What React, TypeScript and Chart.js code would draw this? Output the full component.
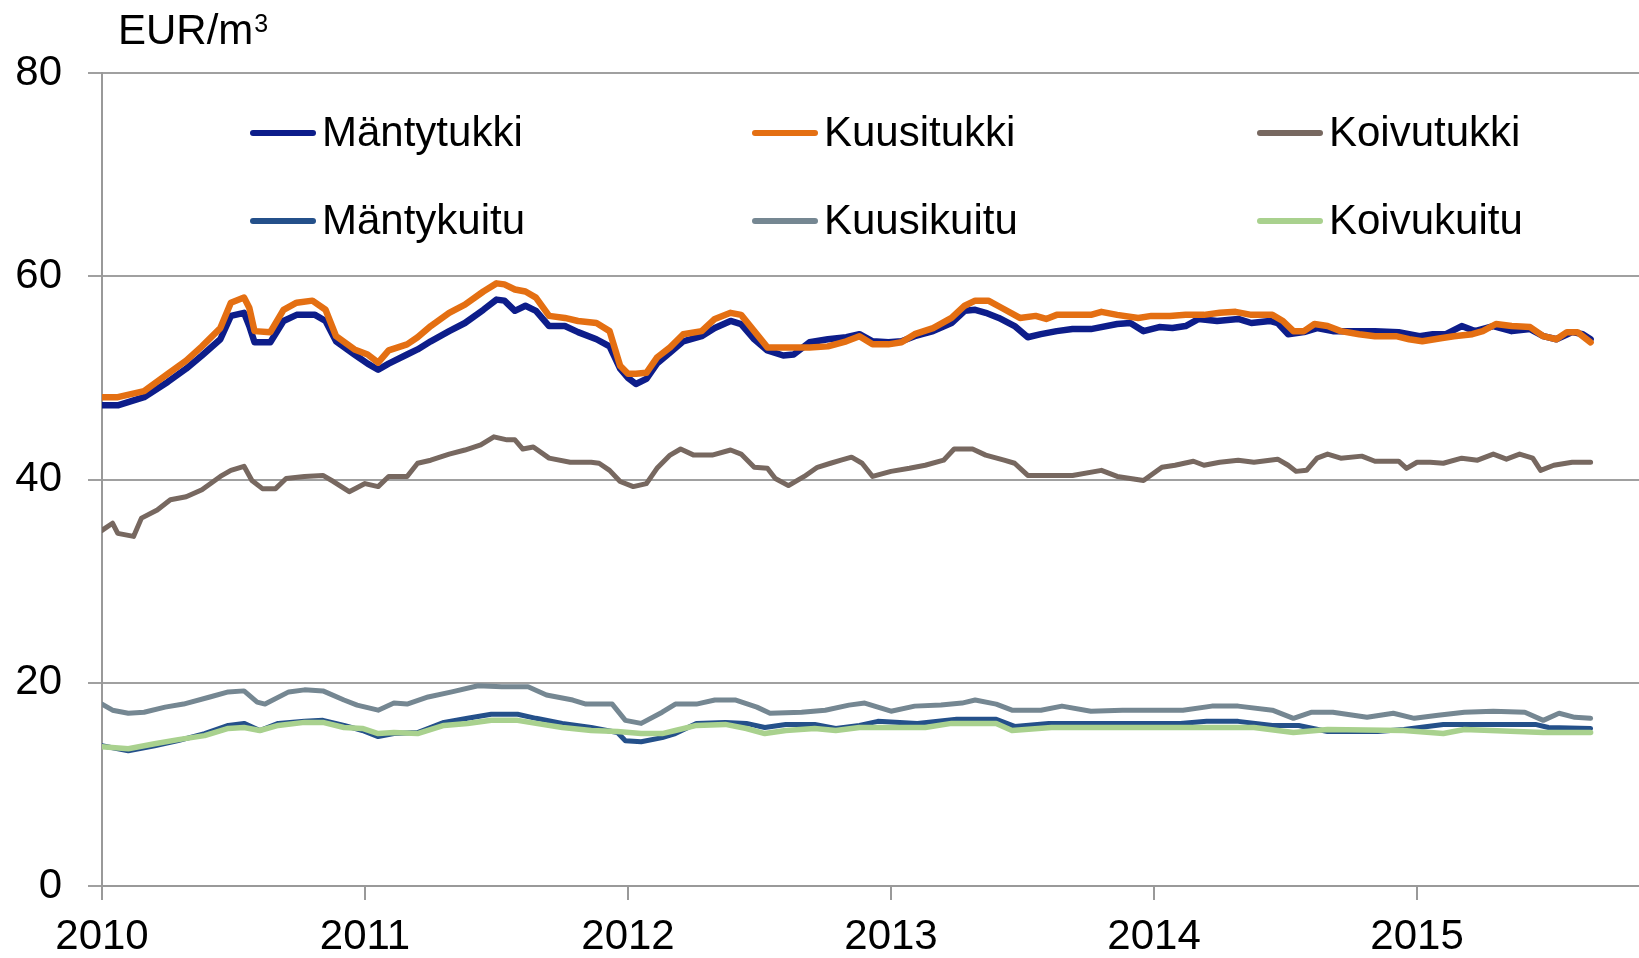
import React, { useEffect, useRef } from "react";
import { Chart, registerables } from "chart.js";

Chart.register(...registerables);

const FONT = "'Liberation Sans', Arial, sans-serif";

const yearTicks = [2010, 2011, 2012, 2013, 2014, 2015];
const yTicks = [0, 20, 40, 60, 80];
const unitLabel = "EUR/m";
const unitSup = "3";

const seriesNames = ["Mäntytukki", "Kuusitukki", "Koivutukki", "Mäntykuitu", "Kuusikuitu", "Koivukuitu"];
const seriesColors = ["#0d1d8a", "#e46f12", "#776860", "#24508a", "#758792", "#a9d18e"];

const mantytukkiT = [2010.00, 2010.06, 2010.16, 2010.25, 2010.32, 2010.38, 2010.45, 2010.49, 2010.54, 2010.56, 2010.58, 2010.64, 2010.69, 2010.74, 2010.81, 2010.85, 2010.89, 2010.96, 2011.01, 2011.05, 2011.09, 2011.16, 2011.20, 2011.25, 2011.32, 2011.38, 2011.45, 2011.50, 2011.53, 2011.57, 2011.61, 2011.65, 2011.70, 2011.76, 2011.81, 2011.88, 2011.93, 2011.97, 2012.00, 2012.03, 2012.07, 2012.11, 2012.16, 2012.21, 2012.28, 2012.33, 2012.39, 2012.43, 2012.48, 2012.53, 2012.59, 2012.63, 2012.69, 2012.76, 2012.83, 2012.88, 2012.93, 2012.99, 2013.04, 2013.09, 2013.16, 2013.23, 2013.28, 2013.32, 2013.36, 2013.41, 2013.47, 2013.52, 2013.57, 2013.63, 2013.69, 2013.76, 2013.86, 2013.91, 2013.96, 2014.02, 2014.07, 2014.12, 2014.17, 2014.24, 2014.32, 2014.37, 2014.44, 2014.47, 2014.51, 2014.57, 2014.62, 2014.68, 2014.76, 2014.84, 2014.93, 2015.01, 2015.06, 2015.11, 2015.17, 2015.22, 2015.29, 2015.36, 2015.43, 2015.48, 2015.53, 2015.59, 2015.63, 2015.66];
const mantytukkiV = [47.3, 47.3, 48.1, 49.6, 50.9, 52.2, 53.8, 56.1, 56.4, 55.1, 53.5, 53.5, 55.6, 56.2, 56.2, 55.6, 53.6, 52.3, 51.4, 50.8, 51.4, 52.3, 52.8, 53.6, 54.6, 55.4, 56.7, 57.7, 57.6, 56.6, 57.1, 56.6, 55.1, 55.1, 54.5, 53.8, 53.1, 50.9, 50.0, 49.4, 49.9, 51.4, 52.5, 53.6, 54.1, 54.9, 55.6, 55.3, 53.8, 52.7, 52.2, 52.3, 53.5, 53.8, 54.0, 54.3, 53.6, 53.5, 53.6, 54.1, 54.6, 55.4, 56.6, 56.7, 56.4, 55.9, 55.1, 54.0, 54.3, 54.6, 54.8, 54.8, 55.3, 55.4, 54.6, 55.0, 54.9, 55.1, 55.8, 55.6, 55.8, 55.4, 55.6, 55.4, 54.3, 54.5, 54.9, 54.6, 54.6, 54.6, 54.5, 54.1, 54.3, 54.3, 55.1, 54.6, 55.1, 54.6, 54.8, 54.1, 53.8, 54.5, 54.3, 53.8];

const kuusitukkiT = [2010.00, 2010.06, 2010.16, 2010.25, 2010.32, 2010.38, 2010.45, 2010.49, 2010.54, 2010.56, 2010.58, 2010.64, 2010.69, 2010.74, 2010.80, 2010.85, 2010.89, 2010.96, 2011.01, 2011.05, 2011.09, 2011.16, 2011.20, 2011.25, 2011.32, 2011.38, 2011.45, 2011.50, 2011.53, 2011.57, 2011.61, 2011.65, 2011.70, 2011.76, 2011.81, 2011.88, 2011.93, 2011.97, 2012.00, 2012.03, 2012.07, 2012.11, 2012.16, 2012.21, 2012.28, 2012.33, 2012.39, 2012.43, 2012.48, 2012.53, 2012.59, 2012.63, 2012.69, 2012.76, 2012.83, 2012.88, 2012.93, 2012.99, 2013.04, 2013.09, 2013.16, 2013.23, 2013.28, 2013.32, 2013.37, 2013.42, 2013.49, 2013.55, 2013.59, 2013.63, 2013.69, 2013.76, 2013.80, 2013.86, 2013.94, 2013.99, 2014.06, 2014.12, 2014.19, 2014.25, 2014.31, 2014.37, 2014.45, 2014.49, 2014.53, 2014.57, 2014.61, 2014.66, 2014.71, 2014.78, 2014.84, 2014.92, 2014.97, 2015.02, 2015.09, 2015.14, 2015.21, 2015.25, 2015.30, 2015.36, 2015.43, 2015.48, 2015.53, 2015.57, 2015.61, 2015.66];
const kuusitukkiV = [48.1, 48.1, 48.7, 50.4, 51.7, 53.1, 54.9, 57.4, 57.9, 56.9, 54.6, 54.5, 56.7, 57.4, 57.6, 56.7, 54.1, 52.8, 52.3, 51.5, 52.7, 53.3, 54.0, 55.1, 56.4, 57.2, 58.5, 59.3, 59.2, 58.7, 58.5, 57.9, 56.1, 55.9, 55.6, 55.4, 54.6, 51.2, 50.4, 50.4, 50.5, 52.0, 53.0, 54.3, 54.6, 55.8, 56.4, 56.2, 54.6, 53.0, 53.0, 53.0, 53.0, 53.1, 53.6, 54.1, 53.3, 53.3, 53.5, 54.3, 54.9, 55.9, 57.1, 57.6, 57.6, 56.9, 55.9, 56.1, 55.8, 56.2, 56.2, 56.2, 56.5, 56.2, 55.9, 56.1, 56.1, 56.2, 56.2, 56.4, 56.5, 56.2, 56.2, 55.6, 54.6, 54.6, 55.3, 55.1, 54.6, 54.3, 54.1, 54.1, 53.8, 53.6, 53.9, 54.1, 54.3, 54.6, 55.3, 55.1, 55.0, 54.1, 53.8, 54.5, 54.5, 53.5];

const koivutukkiT = [2010.00, 2010.04, 2010.06, 2010.12, 2010.15, 2010.21, 2010.26, 2010.32, 2010.38, 2010.45, 2010.49, 2010.54, 2010.57, 2010.61, 2010.66, 2010.70, 2010.77, 2010.84, 2010.88, 2010.94, 2011.00, 2011.05, 2011.09, 2011.16, 2011.20, 2011.25, 2011.32, 2011.38, 2011.44, 2011.49, 2011.54, 2011.57, 2011.60, 2011.64, 2011.70, 2011.78, 2011.86, 2011.89, 2011.93, 2011.97, 2012.02, 2012.07, 2012.11, 2012.16, 2012.20, 2012.25, 2012.32, 2012.39, 2012.43, 2012.48, 2012.53, 2012.56, 2012.61, 2012.67, 2012.72, 2012.77, 2012.81, 2012.85, 2012.89, 2012.93, 2013.00, 2013.07, 2013.13, 2013.20, 2013.24, 2013.31, 2013.36, 2013.43, 2013.47, 2013.52, 2013.60, 2013.69, 2013.80, 2013.86, 2013.96, 2014.03, 2014.08, 2014.15, 2014.19, 2014.25, 2014.32, 2014.38, 2014.47, 2014.51, 2014.54, 2014.58, 2014.62, 2014.66, 2014.71, 2014.79, 2014.84, 2014.93, 2014.96, 2015.00, 2015.05, 2015.10, 2015.17, 2015.23, 2015.29, 2015.34, 2015.39, 2015.44, 2015.47, 2015.52, 2015.59, 2015.66];
const koivutukkiV = [35.0, 35.7, 34.7, 34.4, 36.2, 37.0, 38.0, 38.3, 39.0, 40.3, 40.9, 41.3, 39.9, 39.1, 39.1, 40.1, 40.3, 40.4, 39.8, 38.8, 39.6, 39.3, 40.3, 40.3, 41.6, 41.9, 42.5, 42.9, 43.4, 44.2, 43.9, 43.9, 43.0, 43.2, 42.1, 41.7, 41.7, 41.6, 40.9, 39.8, 39.3, 39.6, 41.1, 42.4, 43.0, 42.4, 42.4, 42.9, 42.5, 41.2, 41.1, 40.1, 39.4, 40.3, 41.2, 41.6, 41.9, 42.2, 41.6, 40.3, 40.8, 41.1, 41.4, 41.9, 43.0, 43.0, 42.4, 41.9, 41.6, 40.4, 40.4, 40.4, 40.9, 40.3, 39.9, 41.2, 41.4, 41.8, 41.4, 41.7, 41.9, 41.7, 42.0, 41.4, 40.8, 40.9, 42.1, 42.5, 42.1, 42.3, 41.8, 41.8, 41.1, 41.7, 41.7, 41.6, 42.1, 41.9, 42.5, 42.0, 42.5, 42.1, 40.9, 41.4, 41.7, 41.7];

const mantykuituT = [2010.00, 2010.10, 2010.20, 2010.29, 2010.39, 2010.48, 2010.54, 2010.60, 2010.67, 2010.77, 2010.84, 2010.92, 2010.99, 2011.05, 2011.11, 2011.20, 2011.30, 2011.39, 2011.48, 2011.58, 2011.65, 2011.75, 2011.86, 2011.96, 2011.99, 2012.05, 2012.13, 2012.18, 2012.26, 2012.37, 2012.45, 2012.52, 2012.60, 2012.71, 2012.79, 2012.88, 2012.95, 2013.10, 2013.25, 2013.40, 2013.47, 2013.60, 2013.80, 2014.10, 2014.20, 2014.32, 2014.45, 2014.55, 2014.66, 2014.85, 2014.95, 2015.10, 2015.30, 2015.45, 2015.50, 2015.66];
const mantykuituV = [13.8, 13.3, 13.8, 14.3, 15.0, 15.8, 16.0, 15.3, 16.0, 16.2, 16.3, 15.8, 15.3, 14.7, 15.0, 15.1, 16.1, 16.5, 16.9, 16.9, 16.5, 16.0, 15.6, 15.1, 14.3, 14.2, 14.6, 15.0, 16.0, 16.1, 16.0, 15.6, 15.9, 15.9, 15.5, 15.8, 16.2, 16.0, 16.4, 16.4, 15.7, 16.0, 16.0, 16.0, 16.2, 16.2, 15.8, 15.8, 15.2, 15.2, 15.4, 15.9, 15.9, 15.9, 15.6, 15.5];

const kuusikuituT = [2010.00, 2010.04, 2010.10, 2010.16, 2010.24, 2010.31, 2010.41, 2010.48, 2010.54, 2010.59, 2010.62, 2010.71, 2010.77, 2010.84, 2010.92, 2010.97, 2011.05, 2011.11, 2011.16, 2011.24, 2011.33, 2011.43, 2011.52, 2011.62, 2011.69, 2011.79, 2011.84, 2011.94, 2011.99, 2012.05, 2012.13, 2012.18, 2012.26, 2012.33, 2012.41, 2012.49, 2012.54, 2012.66, 2012.75, 2012.84, 2012.90, 2013.00, 2013.09, 2013.19, 2013.27, 2013.32, 2013.40, 2013.46, 2013.57, 2013.65, 2013.76, 2013.88, 2013.99, 2014.11, 2014.22, 2014.32, 2014.45, 2014.53, 2014.60, 2014.68, 2014.81, 2014.91, 2014.99, 2015.08, 2015.18, 2015.29, 2015.41, 2015.48, 2015.54, 2015.60, 2015.66];
const kuusikuituV = [17.9, 17.3, 17.0, 17.1, 17.6, 17.9, 18.6, 19.1, 19.2, 18.1, 17.9, 19.1, 19.3, 19.2, 18.3, 17.8, 17.3, 18.0, 17.9, 18.6, 19.1, 19.7, 19.6, 19.6, 18.8, 18.3, 17.9, 17.9, 16.3, 16.0, 17.1, 17.9, 17.9, 18.3, 18.3, 17.6, 17.0, 17.1, 17.3, 17.8, 18.0, 17.2, 17.7, 17.8, 18.0, 18.3, 17.9, 17.3, 17.3, 17.7, 17.2, 17.3, 17.3, 17.3, 17.7, 17.7, 17.3, 16.5, 17.1, 17.1, 16.6, 17.0, 16.5, 16.8, 17.1, 17.2, 17.1, 16.3, 17.0, 16.6, 16.5];

const koivukuituT = [2010.00, 2010.10, 2010.20, 2010.29, 2010.39, 2010.48, 2010.54, 2010.60, 2010.67, 2010.77, 2010.84, 2010.92, 2010.99, 2011.05, 2011.11, 2011.20, 2011.30, 2011.39, 2011.48, 2011.58, 2011.65, 2011.75, 2011.86, 2011.96, 2012.05, 2012.13, 2012.18, 2012.26, 2012.37, 2012.45, 2012.52, 2012.60, 2012.71, 2012.79, 2012.88, 2013.13, 2013.23, 2013.40, 2013.46, 2013.61, 2014.00, 2014.26, 2014.38, 2014.53, 2014.66, 2014.95, 2015.10, 2015.18, 2015.48, 2015.66];
const koivukuituV = [13.7, 13.5, 14.0, 14.4, 14.8, 15.5, 15.6, 15.3, 15.8, 16.1, 16.1, 15.6, 15.5, 15.0, 15.1, 15.0, 15.8, 16.0, 16.3, 16.3, 16.0, 15.6, 15.3, 15.2, 15.0, 15.0, 15.3, 15.8, 15.9, 15.5, 15.0, 15.3, 15.5, 15.3, 15.6, 15.6, 16.0, 16.0, 15.3, 15.6, 15.6, 15.6, 15.6, 15.1, 15.4, 15.3, 15.0, 15.4, 15.1, 15.1];

const seriesT = [mantytukkiT, kuusitukkiT, koivutukkiT, mantykuituT, kuusikuituT, koivukuituT];
const seriesV = [mantytukkiV, kuusitukkiV, koivutukkiV, mantykuituV, kuusikuituV, koivukuituV];
const seriesWidth = [6.5, 6.5, 5, 5, 5, 5.5];
const seriesOrder = [4, 1, 2, 5, 3, 0];

const legendPlugin = {
  id: "customLegend",
  afterDraw(chart: any) {
    const ctx = chart.ctx as CanvasRenderingContext2D;
    ctx.save();
    ctx.fillStyle = "#000";
    ctx.textBaseline = "alphabetic";
    ctx.textAlign = "left";
    ctx.font = `42px ${FONT}`;
    ctx.fillText(unitLabel, 118, 44);
    const w = ctx.measureText(unitLabel).width;
    ctx.font = `25px ${FONT}`;
    ctx.fillText(unitSup, 118 + w + 1, 32);

    const colX = [253, 755, 1260];
    const rowY = [133, 221];
    ctx.font = `42px ${FONT}`;
    ctx.textBaseline = "middle";
    seriesNames.forEach((name, i) => {
      const col = i % 3;
      const row = Math.floor(i / 3);
      const x = colX[col];
      const y = rowY[row];
      ctx.strokeStyle = seriesColors[i];
      ctx.lineWidth = 6;
      ctx.lineCap = "round";
      ctx.beginPath();
      ctx.moveTo(x, y);
      ctx.lineTo(x + 60, y);
      ctx.stroke();
      ctx.fillStyle = "#000";
      ctx.fillText(name, x + 69, y + 1);
    });
    ctx.restore();
  },
};

export default function App() {
  const ref = useRef<HTMLCanvasElement | null>(null);
  useEffect(() => {
    document.body.style.margin = "0";
    const canvas = ref.current!;
    const datasets = seriesNames.map((name, i) => ({
      label: name,
      data: seriesT[i].map((t, j) => ({ x: t, y: seriesV[i][j] })),
      borderColor: seriesColors[i],
      backgroundColor: seriesColors[i],
      borderWidth: seriesWidth[i],
      pointRadius: 0,
      tension: 0,
      fill: false,
      borderJoinStyle: "round" as const,
      borderCapStyle: "round" as const,
      order: seriesOrder[i],
    }));
    const chart = new Chart(canvas, {
      type: "line",
      data: { datasets },
      plugins: [legendPlugin],
      options: {
        responsive: false,
        animation: false,
        layout: { padding: { top: 73, left: 0, right: 0, bottom: 0 } },
        plugins: { legend: { display: false }, tooltip: { enabled: false } },
        scales: {
          x: {
            type: "linear",
            min: 2010,
            max: 2015.844,
            afterBuildTicks: (scale: any) => {
              scale.ticks = yearTicks.map((v) => ({ value: v }));
            },
            afterFit: (scale: any) => {
              scale.height = 72;
            },
            grid: { drawOnChartArea: false, drawTicks: true, tickLength: 14, color: "#999999", lineWidth: 2 },
            border: { display: true, color: "#999999", width: 2 },
            ticks: {
              autoSkip: false,
              maxRotation: 0,
              padding: 12,
              color: "#000",
              font: { family: FONT, size: 42 },
              callback: (v: any) => String(v),
            },
          },
          y: {
            type: "linear",
            min: 0,
            max: 80,
            afterBuildTicks: (scale: any) => {
              scale.ticks = yTicks.map((v) => ({ value: v }));
            },
            afterFit: (scale: any) => {
              scale.width = 102;
            },
            grid: { drawTicks: true, tickLength: 14, color: "#a0a0a0", lineWidth: 2 },
            border: { display: true, color: "#999999", width: 2 },
            ticks: {
              padding: 26,
              color: "#000",
              font: { family: FONT, size: 42 },
              callback: (v: any) => String(v),
            },
          },
        },
      },
    });
    return () => chart.destroy();
  }, []);
  return (
    <div style={{ width: 1639, height: 958 }}>
      <canvas ref={ref} width={1639} height={958} style={{ display: "block" }} />
    </div>
  );
}
